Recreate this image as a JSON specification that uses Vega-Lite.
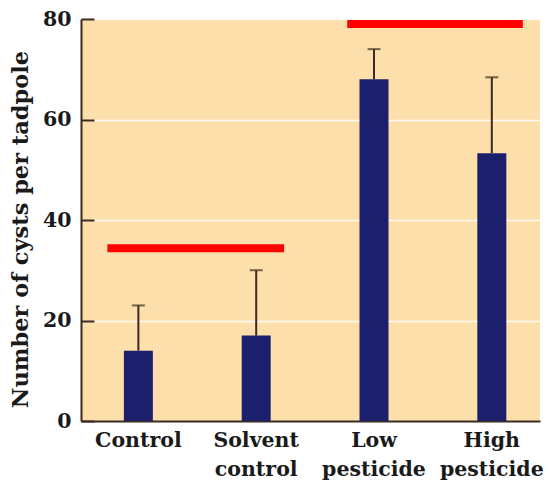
{
  "$schema": "https://vega.github.io/schema/vega-lite/v6.json",
  "width": 459,
  "height": 402,
  "autosize": "none",
  "padding": {"left": 81, "top": 19, "right": 9, "bottom": 70},
  "background": "white",
  "config": {
    "view": {"fill": "#FDDFAB", "stroke": null},
    "font": "DejaVu Serif"
  },
  "datasets": {
    "cysts": [
      {"treatment": "Control", "mean": 14, "upper": 23},
      {"treatment": "Solvent control", "mean": 17, "upper": 30},
      {"treatment": "Low pesticide", "mean": 68, "upper": 74},
      {"treatment": "High pesticide", "mean": 53.3, "upper": 68.4}
    ],
    "groups": [
      {"start": 0.23, "end": 1.77, "level": 34.4},
      {"start": 2.32, "end": 3.85, "level": 79}
    ]
  },
  "resolve": {"scale": {"x": "independent"}, "axis": {"x": "independent"}},
  "layer": [
    {
      "data": {"name": "cysts"},
      "encoding": {
        "x": {
          "field": "treatment",
          "type": "nominal",
          "sort": null,
          "scale": {"paddingInner": 0.754, "paddingOuter": 0.325, "align": 0.56},
          "axis": {
            "title": null,
            "labelAngle": 0,
            "ticks": false,
            "domainColor": "#3b2a1f",
            "domainWidth": 2,
            "labelFont": "DejaVu Serif",
            "labelFontWeight": "bold",
            "labelFontSize": 20.5,
            "labelColor": "#1a1a1a",
            "labelPadding": 9,
            "labelLineHeight": 29,
            "labelExpr": "split(datum.label, ' ')"
          }
        }
      },
      "layer": [
        {
          "mark": {"type": "rule", "color": "#3b2a1f", "strokeWidth": 2},
          "encoding": {
            "y": {"field": "mean", "type": "quantitative"},
            "y2": {"field": "upper"}
          }
        },
        {
          "mark": {"type": "tick", "color": "#3b2a1f", "thickness": 2, "size": 13},
          "encoding": {
            "y": {"field": "upper", "type": "quantitative"}
          }
        },
        {
          "mark": {"type": "bar", "color": "#1C1F6C"},
          "encoding": {
            "y": {
              "field": "mean",
              "type": "quantitative",
              "scale": {"domain": [0, 80], "nice": false},
              "axis": {
                "title": "Number of cysts per tadpole",
                "titleFont": "DejaVu Serif",
                "titleFontWeight": "bold",
                "titleFontSize": 22.5,
                "titleColor": "#1a1a1a",
                "titlePadding": 10,
                "titleY": 210,
                "titleAlign": "center",
                "values": [0, 20, 40, 60, 80],
                "grid": true,
                "gridColor": "white",
                "gridWidth": 1.5,
                "gridOpacity": 0.85,
                "domainColor": "#3b2a1f",
                "domainWidth": 2,
                "tickColor": "#3b2a1f",
                "tickWidth": 2,
                "tickSize": -13,
                "labelFont": "DejaVu Serif",
                "labelFontWeight": "bold",
                "labelFontSize": 20.5,
                "labelColor": "#1a1a1a",
                "labelPadding": 23
              }
            }
          }
        }
      ]
    },
    {
      "data": {"name": "groups"},
      "mark": {"type": "rule", "color": "#FF0000", "strokeWidth": 8, "strokeCap": "butt"},
      "encoding": {
        "x": {"field": "start", "type": "quantitative", "scale": {"domain": [0, 4], "nice": false}, "axis": null},
        "x2": {"field": "end"},
        "y": {"field": "level", "type": "quantitative"}
      }
    }
  ]
}
